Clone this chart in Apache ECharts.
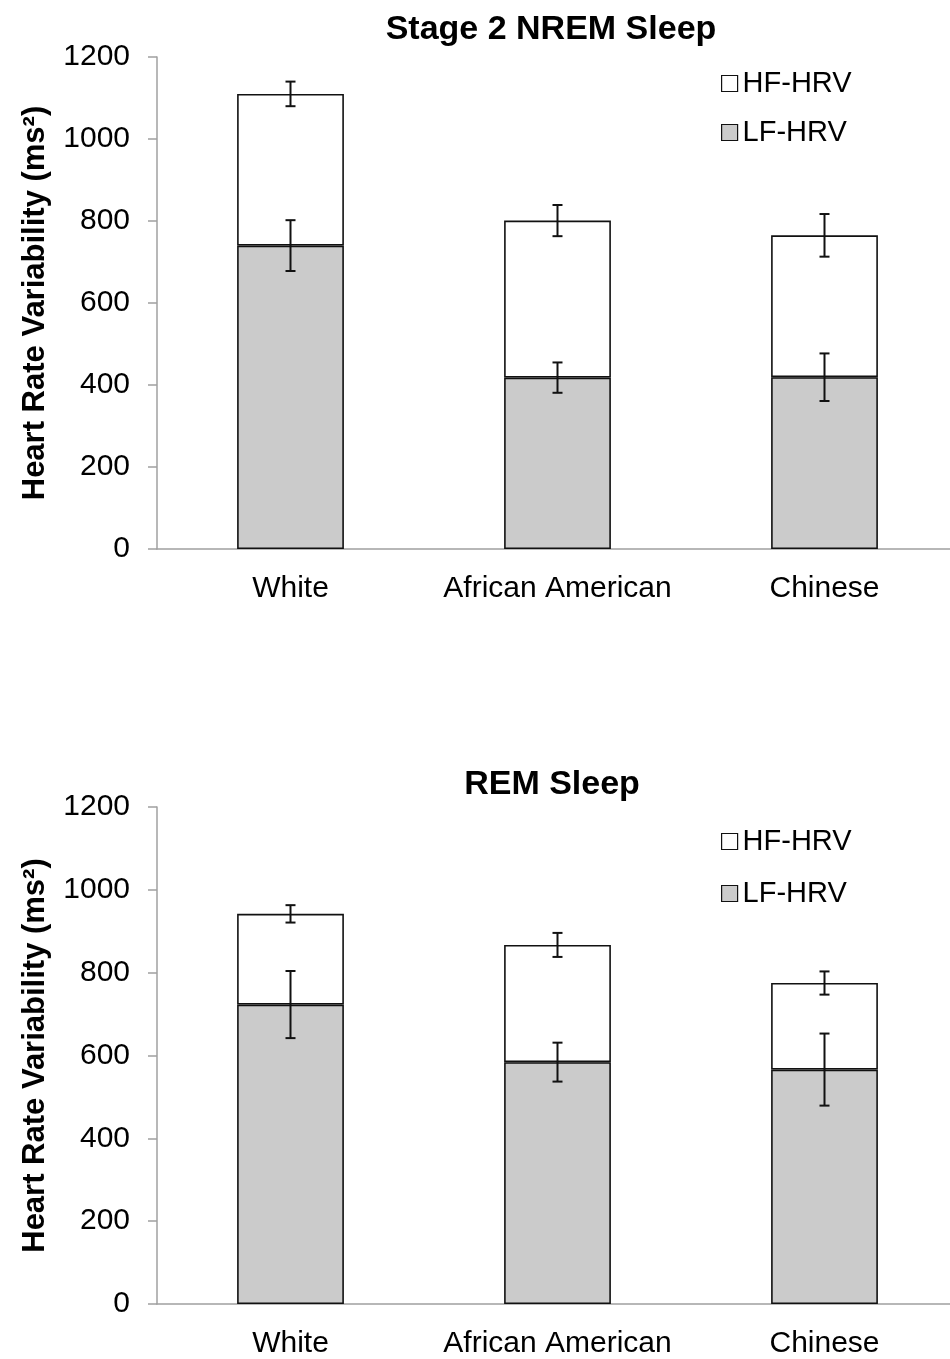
<!DOCTYPE html>
<html>
<head>
<meta charset="utf-8">
<title>HRV by race - NREM / REM</title>
<script src="https://cdn.jsdelivr.net/npm/echarts@6/dist/echarts.min.js"></script>
<style>
html, body { margin: 0; padding: 0; background: #fff; }
#hrvchart { width: 950px; height: 1359px; }
</style>
</head>
<body>
<div id="hrvchart"></div>
<script>
// values (ms^2)
var groups = ['White', 'African American', 'Chinese'];
var yTicks = [0, 200, 400, 600, 800, 1000, 1200];

var nremLF = [740, 418, 419];
var nremHF = [370, 383, 346];
var nremLFErr = [62, 37, 58];
var nremTotalErr = [30, 38, 52];

var remLF = [723, 584, 566];
var remHF = [219, 283, 209];
var remLFErr = [81, 47, 87];
var remTotalErr = [21, 29, 28];

var FONT = "'Liberation Sans', Arial, sans-serif";
var AXIS_GREY = '#a0a0a0';

// [category index, centre value, error]
function errRows(lf, hf, lfErr, totErr) {
    var rows = [];
    for (var i = 0; i < lf.length; i++) {
        rows.push([i, lf[i], lfErr[i]]);
        rows.push([i, lf[i] + hf[i], totErr[i]]);
    }
    return rows;
}

function drawErr(params, api) {
    var x = api.value(0), y = api.value(1), e = api.value(2);
    var hi = api.coord([x, y + e]);
    var lo = api.coord([x, y - e]);
    var half = 5;
    var st = { stroke: '#111', lineWidth: 2 };
    return {
        type: 'group',
        children: [
            { type: 'line', shape: { x1: hi[0], y1: hi[1], x2: lo[0], y2: lo[1] }, style: st },
            { type: 'line', shape: { x1: hi[0] - half, y1: hi[1], x2: hi[0] + half, y2: hi[1] }, style: st },
            { type: 'line', shape: { x1: lo[0] - half, y1: lo[1], x2: lo[0] + half, y2: lo[1] }, style: st }
        ]
    };
}

function xAxisFor(idx) {
    return {
        type: 'category',
        gridIndex: idx,
        data: groups,
        axisLine: { lineStyle: { color: AXIS_GREY, width: 1.5 } },
        axisTick: { length: 9, lineStyle: { color: AXIS_GREY, width: 1.5 } },
        axisLabel: { color: '#000', fontSize: 30, fontFamily: FONT, margin: 25, interval: 0 }
    };
}

function yAxisFor(idx) {
    return {
        type: 'value',
        gridIndex: idx,
        min: yTicks[0],
        max: yTicks[yTicks.length - 1],
        interval: yTicks[1] - yTicks[0],
        name: 'Heart Rate Variability (ms\u00B2)',
        nameLocation: 'middle',
        nameGap: 106,
        nameTextStyle: { color: '#000', fontSize: 31, fontWeight: 'bold', fontFamily: FONT },
        splitLine: { show: false },
        axisLine: { show: true, lineStyle: { color: AXIS_GREY, width: 1.5 } },
        axisTick: { show: true, length: 9, lineStyle: { color: AXIS_GREY, width: 1.5 } },
        axisLabel: {
            color: '#000', fontSize: 30, fontFamily: FONT, margin: 27,
            formatter: function (v) { return String(v); }
        }
    };
}

function seriesFor(idx, lf, hf, lfErr, totErr) {
    return [
        {
            name: 'LF-HRV', type: 'bar', stack: 'hrv' + idx,
            xAxisIndex: idx, yAxisIndex: idx, barWidth: '40%',
            itemStyle: { color: '#cbcbcb', borderColor: '#111', borderWidth: 1.6 },
            data: lf
        },
        {
            name: 'HF-HRV', type: 'bar', stack: 'hrv' + idx,
            xAxisIndex: idx, yAxisIndex: idx, barWidth: '40%',
            itemStyle: { color: '#fff', borderColor: '#111', borderWidth: 1.6 },
            data: hf
        },
        {
            type: 'custom', xAxisIndex: idx, yAxisIndex: idx, z: 10,
            renderItem: drawErr,
            data: errRows(lf, hf, lfErr, totErr)
        }
    ];
}

var chart = echarts.init(document.getElementById('hrvchart'));

var legendBase = {
    orient: 'vertical',
    left: 716,
    icon: 'rect',
    itemWidth: 16,
    itemHeight: 16,
    itemGap: 20,
    data: ['HF-HRV', 'LF-HRV'],
    itemStyle: { borderWidth: 1.2 },
    textStyle: { color: '#000', fontSize: 29, fontFamily: FONT },
    selectedMode: false
};

chart.setOption({
    animation: false,
    backgroundColor: '#fff',
    title: [
        { text: 'Stage 2 NREM Sleep', left: 546, top: 8, textAlign: 'center',
          textStyle: { fontSize: 34, fontWeight: 'bold', color: '#000', fontFamily: FONT } },
        { text: 'REM Sleep', left: 547, top: 763, textAlign: 'center',
          textStyle: { fontSize: 34, fontWeight: 'bold', color: '#000', fontFamily: FONT } }
    ],
    legend: [
        Object.assign({}, legendBase, { top: 64 }),
        Object.assign({}, legendBase, { top: 822, itemGap: 23 })
    ],
    grid: [
        { left: 157, top: 57, width: 801, height: 492, outerBoundsMode: 'none' },
        { left: 157, top: 807, width: 801, height: 497, outerBoundsMode: 'none' }
    ],
    xAxis: [xAxisFor(0), xAxisFor(1)],
    yAxis: [yAxisFor(0), yAxisFor(1)],
    series: seriesFor(0, nremLF, nremHF, nremLFErr, nremTotalErr)
        .concat(seriesFor(1, remLF, remHF, remLFErr, remTotalErr))
});

window.onresize = function () {
    chart.resize();
};
</script>
</body>
</html>
